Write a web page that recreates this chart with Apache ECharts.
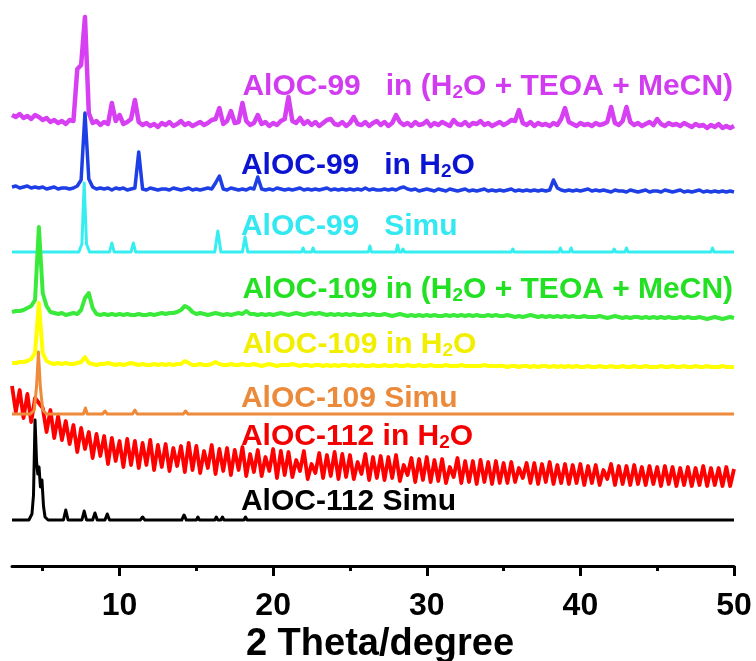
<!DOCTYPE html>
<html>
<head>
<meta charset="utf-8">
<script src="https://cdn.jsdelivr.net/npm/echarts@6/dist/echarts.min.js"></script>
<style>
  html, body { margin: 0; padding: 0; background: #fff; }
  #chart { width: 756px; height: 661px; }
</style>
</head>
<body>
<div id="chart"></div>
<script>
// Measured patterns share one 2θ grid: 3.00° to 50.00° in 0.25° steps (eight points per 2° row).
const thetaStart = 3;
const thetaStep = 0.25;

// Vertical offsets that stack the patterns (a.u.)
const offsetMagenta = 439;
const offsetBlue = 375;
const offsetCyan = 314;
const offsetGreen = 248;
const offsetYellow = 199;
const offsetOrange = 152;
const offsetRed = 90;
const offsetBlack = 46;

// AlOC-99 in (H2O + TEOA + MeCN)
const magentaRows = [
  [12,10,13,9,11,8,12,10],
  [7,9,5,7,4,6,3,7],
  [6,58,62,110,14,4,6,2],
  [5,3,24,6,12,3,5,8],
  [27,5,2,4,1,3,0,4],
  [2,5,1,3,6,2,4,1],
  [3,5,2,4,7,8,19,3],
  [6,16,4,5,24,6,2,4],
  [12,3,5,1,4,2,6,8],
  [30,6,4,9,3,6,2,5],
  [1,4,7,8,3,2,5,1],
  [4,10,3,2,5,1,4,6],
  [2,5,1,4,12,5,2,4],
  [1,5,2,3,6,1,4,2],
  [5,3,1,7,3,2,5,1],
  [4,3,6,2,4,1,3,5],
  [2,4,7,6,17,4,2,5],
  [1,4,2,3,1,4,2,8],
  [19,5,3,1,4,2,3,1],
  [4,2,3,5,20,4,2,6],
  [20,5,2,4,1,3,5,2],
  [8,3,1,4,2,3,1,4],
  [2,0,3,1,2,-1,2,0],
  [3,-1,1,-1,1]
];

// AlOC-99 in H2O
const blueRows = [
  [4,5,3,4,5,3,4,3],
  [4,2,3,4,2,3,3,2],
  [3,5,11,78,12,4,2,3],
  [2,3,1,3,2,3,1,2],
  [3,39,2,1,3,2,1,2],
  [2,1,3,2,1,2,3,1],
  [2,1,2,3,2,8,15,2],
  [1,3,2,1,2,1,3,2],
  [14,2,1,2,1,3,2,1],
  [2,1,2,3,1,2,1,2],
  [1,2,3,1,2,1,2,1],
  [2,1,2,1,3,1,2,1],
  [1,2,1,2,1,3,4,2],
  [1,2,0,1,2,1,0,2],
  [1,0,2,1,0,1,2,0],
  [1,0,1,2,0,1,0,1],
  [0,1,2,0,1,0,1,0],
  [1,0,1,0,1,11,3,1],
  [0,1,0,1,0,1,2,0],
  [1,0,1,0,-1,1,0,0],
  [-1,1,0,-1,0,1,-1,0],
  [0,-1,1,0,-1,0,1,-1],
  [0,-1,0,1,-1,0,-1,0],
  [-1,0,-1,0,-1]
];

// AlOC-109 in (H2O + TEOA + MeCN)
const greenRows = [
  [6,7,7,8,10,12,18,91],
  [25,12,6,5,4,5,3,4],
  [5,4,8,20,25,10,4,3],
  [4,3,4,3,4,3,4,3],
  [3,4,3,3,4,3,4,5],
  [4,5,5,6,8,12,10,6],
  [4,5,4,3,4,5,4,3],
  [4,3,4,5,4,7,4,4],
  [3,4,3,4,3,4,5,4],
  [3,4,5,4,3,4,5,4],
  [5,4,3,4,3,4,3,4],
  [3,4,3,3,4,3,4,3],
  [3,4,3,2,3,4,3,2],
  [3,2,3,2,3,2,3,2],
  [2,3,2,3,2,3,2,3],
  [2,3,2,2,3,2,3,2],
  [2,3,2,1,2,1,2,3],
  [2,1,2,1,2,1,2,1],
  [2,1,2,1,1,2,1,1],
  [1,2,1,0,1,2,1,0],
  [1,0,1,1,0,1,0,1],
  [0,1,0,1,0,0,1,0],
  [1,0,0,1,0,-1,0,1],
  [0,-1,0,1,0]
];

// AlOC-109 in H2O
const yellowRows = [
  [4,4,5,5,6,8,14,64],
  [14,6,4,3,4,3,4,3],
  [3,4,5,10,4,3,2,3],
  [3,4,3,2,3,2,3,4],
  [3,2,3,2,2,3,2,3],
  [2,3,2,3,3,6,4,2],
  [2,3,2,2,3,5,3,2],
  [2,3,2,2,3,2,2,3],
  [2,1,2,3,2,1,2,2],
  [2,3,2,1,2,2,1,2],
  [2,1,2,1,2,1,2,2],
  [1,2,1,2,1,1,2,1],
  [1,2,1,1,2,1,1,2],
  [1,1,2,1,1,2,1,1],
  [1,2,1,1,1,2,1,1],
  [1,1,1,2,1,1,1,1],
  [1,0,1,1,0,1,1,0],
  [1,0,1,1,0,1,0,1],
  [0,1,0,1,0,0,1,0],
  [0,1,0,0,1,0,0,1],
  [0,0,1,0,0,1,0,0],
  [0,1,0,0,1,0,0,1],
  [0,0,1,0,0,1,0,0],
  [0,1,0,0,0]
];

// AlOC-112 in H2O
const redRows = [
  [90,64,86,58,82,54,78,73],
  [68,44,66,38,60,36,55,32],
  [51,24,48,27,44,18,42,20],
  [40,12,38,15,35,9,37,11],
  [35,8,33,11,36,6,31,9],
  [32,5,28,10,30,4,33,6],
  [30,3,25,8,31,2,27,5],
  [28,1,26,6,29,0,22,4],
  [26,0,19,5,27,-2,25,1],
  [24,-1,16,5,25,-3,12,3],
  [23,-2,21,0,24,-3,22,-1],
  [21,-3,14,2,22,-4,19,-2],
  [20,-4,19,-2,21,-5,11,1],
  [18,-6,17,-4,19,-6,16,-5],
  [17,-7,9,-1,18,-7,15,-6],
  [15,-8,16,-6,14,-8,15,-7],
  [13,-7,14,-6,8,-2,13,-7],
  [13,-8,12,-6,14,-8,11,-7],
  [12,-8,11,-7,12,-9,10,-7],
  [11,-9,6,-3,12,-9,10,-8],
  [10,-9,11,-8,9,-9,10,-8],
  [9,-10,10,-8,9,-10,8,-9],
  [9,-10,8,-9,10,-10,8,-9],
  [8,-10,9,-10,7]
];

// Simulated patterns: [2θ, intensity] pairs
const cyanSimu = [
  [3,0],[7.35,0],[7.55,8],[7.7,69],[7.85,8],[8.05,0],
  [9.35,0],[9.5,9],[9.65,0],[10.75,0],[10.9,9],[11.05,0],
  [16.2,0],[16.4,21],[16.6,0],[18.0,0],[18.17,15],[18.35,0],
  [21.85,0],[21.95,4],[22.05,0],[22.5,0],[22.6,4],[22.7,0],
  [26.2,0],[26.3,6],[26.4,0],[28.0,0],[28.1,7],[28.2,0],[28.35,0],[28.45,3],[28.55,0],
  [31.8,0],[31.9,2],[32.0,0],[35.5,0],[35.6,3],[35.7,0],
  [38.6,0],[38.7,4],[38.8,0],[39.3,0],[39.4,4],[39.5,0],
  [42.1,0],[42.2,3],[42.3,0],[42.9,0],[43.0,4],[43.1,0],
  [48.5,0],[48.6,4],[48.7,0],[50,0]
];

const orangeSimu = [
  [3,0],[4.2,0],[4.45,4],[4.6,28],[4.72,62],[4.84,28],[5.0,4],[5.25,0],
  [7.65,0],[7.78,6],[7.9,0],[8.9,0],[9.05,3],[9.2,0],
  [10.85,0],[11.0,4],[11.15,0],[14.15,0],[14.3,3],[14.45,0],
  [16.3,0],[16.4,2],[16.5,0],[18.1,0],[18.2,2],[18.3,0],
  [21.9,0],[22.0,2],[22.1,0],[50,0]
];

const blackSimu = [
  [3,0],[4.1,0],[4.3,6],[4.4,25],[4.5,100],[4.6,58],[4.68,46],[4.76,53],[4.85,33],
  [4.95,40],[5.05,14],[5.15,3],[5.35,0],
  [6.35,0],[6.5,10],[6.65,0],[7.55,0],[7.7,9],[7.85,0],[8.25,0],[8.4,7],[8.55,0],
  [9.05,0],[9.2,6],[9.35,0],[11.35,0],[11.5,3],[11.65,0],
  [14.05,0],[14.2,5],[14.35,0],[15.0,0],[15.1,3],[15.2,0],
  [16.2,0],[16.3,3],[16.4,0],[16.6,0],[16.7,3],[16.8,0],
  [18.1,0],[18.2,3],[18.3,0],[19.8,0],[19.9,2],[20.0,0],[21.2,0],[21.3,2],[21.4,0],[50,0]
];

// Trace labels: text, colour, anchor in data space (2θ, level of the text line's top)
const labelTexts = [
  'AlOC-99   in (H₂O + TEOA + MeCN)',
  'AlOC-99   in H₂O',
  'AlOC-99   Simu',
  'AlOC-109 in (H₂O + TEOA + MeCN)',
  'AlOC-109 in H₂O',
  'AlOC-109 Simu',
  'AlOC-112 in H₂O',
  'AlOC-112 Simu'
];
const labelColors = ['#d23cf0', '#0c14d2', '#33e8f0', '#22e022', '#f2ee00', '#ec8a3c', '#f40000', '#000000'];
const labelTheta = [18.0, 17.9, 17.9, 18.0, 18.0, 17.9, 17.9, 17.9];
const labelLevel = [494, 415, 354, 291, 236, 182, 144, 79];

const majorTicks = [10, 20, 30, 40, 50];
const minorTicks = [5, 15, 25, 35, 45];

const FONT = "'Liberation Sans', Arial, sans-serif";

function gridData(rows, offset) {
  const flat = [].concat(...rows);
  return flat.map((v, i) => [thetaStart + thetaStep * i, offset + v]);
}
function pairData(pairs, offset) {
  return pairs.map(p => [p[0], offset + p[1]]);
}
function line(name, data, color, width) {
  return {
    name, type: 'line', data, xAxisIndex: 0, yAxisIndex: 0,
    showSymbol: false, symbol: 'none', silent: true,
    lineStyle: { color, width, join: 'round' },
    emphasis: { disabled: true }
  };
}

const chart = echarts.init(document.getElementById('chart'), null, { renderer: 'canvas' });

chart.setOption({
  animation: false,
  backgroundColor: '#ffffff',
  grid: { left: 12, right: 22, top: 0, bottom: 95, containLabel: false, outerBoundsMode: 'none' },
  xAxis: [
    {
      type: 'value', min: 3, max: 50, position: 'bottom',
      axisLine: { show: true, lineStyle: { color: '#000', width: 3 } },
      axisTick: { show: true, customValues: majorTicks, length: 10, lineStyle: { color: '#000', width: 3 } },
      axisLabel: { show: true, customValues: majorTicks, color: '#000', fontSize: 32, fontWeight: 'bold', fontFamily: FONT, margin: 24 },
      splitLine: { show: false },
      name: '2 Theta/degree', nameLocation: 'middle', nameGap: 60, nameMoveOverlap: false,
      nameTextStyle: { color: '#000', fontSize: 38, fontWeight: 'bold', fontFamily: FONT, padding: [0, 0, 0, 14] }
    },
    {
      type: 'value', min: 3, max: 50, position: 'bottom', offset: 0,
      axisLine: { show: false },
      axisTick: { show: true, customValues: minorTicks, length: 5, lineStyle: { color: '#000', width: 3 } },
      axisLabel: { show: false },
      splitLine: { show: false }
    }
  ],
  yAxis: { type: 'value', min: 0, max: 566, show: false },
  series: [
    line('AlOC-99 in H2O', gridData(blueRows, offsetBlue), '#1e3ee6', 3.5),
    line('AlOC-99 in (H2O + TEOA + MeCN)', gridData(magentaRows, offsetMagenta), '#d640f2', 4.5),
    line('AlOC-99 Simu', pairData(cyanSimu, offsetCyan), '#36eef0', 3),
    line('AlOC-109 in (H2O + TEOA + MeCN)', gridData(greenRows, offsetGreen), '#3aea3a', 4),
    line('AlOC-109 in H2O', gridData(yellowRows, offsetYellow), '#ffff00', 4),
    line('AlOC-112 in H2O', gridData(redRows, offsetRed), '#ff0000', 3.8),
    line('AlOC-109 Simu', pairData(orangeSimu, offsetOrange), '#ee8a3a', 3),
    line('AlOC-112 Simu', pairData(blackSimu, offsetBlack), '#000000', 3)
  ]
});

// Trace labels with subscripted "2", placed through the chart's own coordinate system
function richText(str) {
  return str.split('₂').map(p => '{m|' + p + '}').join('{s|2}');
}
const graphics = labelTexts.map((t, i) => {
  const pt = chart.convertToPixel({ gridIndex: 0 }, [labelTheta[i], labelLevel[i]]);
  const c = labelColors[i];
  return {
    type: 'text', x: pt[0], y: pt[1], silent: true,
    style: {
      text: richText(t), fill: c, verticalAlign: 'top', align: 'left',
      rich: {
        m: { fontSize: 30, fontWeight: 'bold', fontFamily: FONT, fill: c, lineHeight: 30, verticalAlign: 'top' },
        s: { fontSize: 19, fontWeight: 'bold', fontFamily: FONT, fill: c, lineHeight: 20, padding: [16, 0, 0, 0], verticalAlign: 'bottom' }
      }
    }
  };
});
chart.setOption({ graphic: graphics });
</script>
</body>
</html>
